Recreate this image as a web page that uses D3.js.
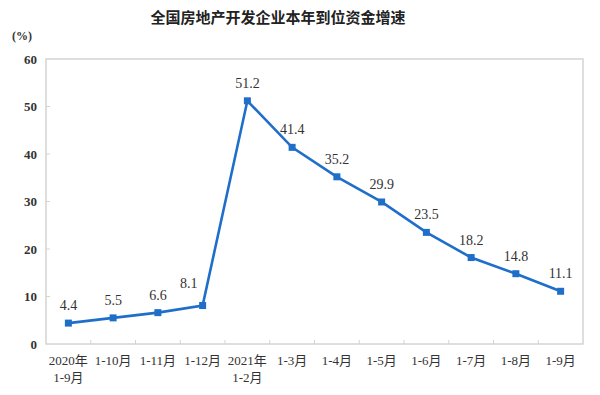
<!DOCTYPE html>
<html>
<head>
<meta charset="utf-8">
<script src="https://cdn.jsdelivr.net/npm/d3@7"></script>
<style>
  body { margin: 0; background: #fff; }
  svg { display: block; }
</style>
</head>
<body>
<svg id="chart" width="600" height="395"></svg>
<script>
// Data
const categories = ["2020年\n1-9月", "1-10月", "1-11月", "1-12月", "2021年\n1-2月", "1-3月",
                    "1-4月", "1-5月", "1-6月", "1-7月", "1-8月", "1-9月"]
const values = [4.4, 5.5, 6.6, 8.1, 51.2, 41.4, 35.2, 29.9, 23.5, 18.2, 14.8, 11.1]
const yTicks = [0, 10, 20, 30, 40, 50, 60]

const svg = d3.select("#chart")
const margin = { top: 59, right: 17, bottom: 51, left: 46 }
const width = 600 - margin.left - margin.right,
      height = 395 - margin.top - margin.bottom

const serif = "'Liberation Serif', 'Noto Sans CJK SC', serif"
const textColor = "#333"
const lineColor = "#1f6fca"
const frameColor = "#d4d4d4"

// title
svg.append("text")
    .attr("x", 278)
    .attr("y", 23)
    .attr("text-anchor", "middle")
    .attr("font-family", "'Noto Sans CJK SC', sans-serif")
    .attr("font-weight", "bold")
    .attr("font-size", 15)
    .attr("fill", "#222")
    .text("全国房地产开发企业本年到位资金增速")

svg.append("text")
    .attr("x", 22)
    .attr("y", 40)
    .attr("text-anchor", "middle")
    .attr("font-family", serif)
    .attr("font-weight", "bold")
    .attr("font-size", 12)
    .attr("fill", textColor)
    .text("(%)")

const g = svg.append("g").attr("transform", `translate(${margin.left},${margin.top})`)

const x = d3.scaleBand().domain(categories).range([0, width])
const y = d3.scaleLinear().domain([0, 60]).range([height, 0])

// frame
g.append("rect")
    .attr("width", width)
    .attr("height", height)
    .attr("fill", "none")
    .attr("stroke", frameColor)
    .attr("stroke-width", 1.5)

// x ticks at category boundaries, pointing up
g.selectAll(".xtick")
  .data(categories.slice(1))
  .enter().append("line")
    .attr("x1", d => x(d))
    .attr("x2", d => x(d))
    .attr("y1", height)
    .attr("y2", height - 4)
    .attr("stroke", frameColor)

// y ticks pointing inward
g.selectAll(".ytick")
  .data(yTicks.slice(1, -1))
  .enter().append("line")
    .attr("x1", 0)
    .attr("x2", 4)
    .attr("y1", d => y(d))
    .attr("y2", d => y(d))
    .attr("stroke", frameColor)

// y tick labels
g.selectAll(".ylabel")
  .data(yTicks)
  .enter().append("text")
    .attr("x", -9)
    .attr("y", d => y(d))
    .attr("dy", "0.35em")
    .attr("text-anchor", "end")
    .attr("font-family", serif)
    .attr("font-weight", "bold")
    .attr("font-size", 13)
    .attr("fill", textColor)
    .text(d => d)

// x labels
const xl = g.selectAll(".xlabel")
  .data(categories)
  .enter().append("text")
    .attr("x", d => x(d) + x.bandwidth() / 2)
    .attr("y", height + 21)
    .attr("text-anchor", "middle")
    .attr("font-family", serif)
    .attr("font-size", 13)
    .attr("fill", textColor)

xl.selectAll("tspan")
  .data(d => d.split("\n"))
  .enter().append("tspan")
    .attr("x", function() { return d3.select(this.parentNode).attr("x") })
    .attr("dy", (d, i) => i === 0 ? 0 : 17)
    .text(d => d)

const pts = categories.map((c, i) => ({ c: c, v: values[i], i: i }))

// line
g.append("path")
    .datum(pts)
    .attr("fill", "none")
    .attr("stroke", lineColor)
    .attr("stroke-width", 2.6)
    .attr("d", d3.line().x(d => x(d.c) + x.bandwidth() / 2).y(d => y(d.v)))

// markers
g.selectAll(".marker")
  .data(pts)
  .enter().append("rect")
    .attr("x", d => x(d.c) + x.bandwidth() / 2 - 3.5)
    .attr("y", d => y(d.v) - 3.5)
    .attr("width", 7)
    .attr("height", 7)
    .attr("fill", lineColor)

// value labels (the point before the jump is pushed left so it clears the line)
const beforeJump = d => d.i < values.length - 1 && values[d.i + 1] - d.v > 20

g.selectAll(".vlabel")
  .data(pts)
  .enter().append("text")
    .attr("x", d => x(d.c) + x.bandwidth() / 2 - (beforeJump(d) ? 14 : 0))
    .attr("y", d => y(d.v) - (beforeJump(d) ? 18 : 13))
    .attr("text-anchor", "middle")
    .attr("font-family", serif)
    .attr("font-size", 14)
    .attr("fill", textColor)
    .text(d => d.v)
</script>
</body>
</html>
